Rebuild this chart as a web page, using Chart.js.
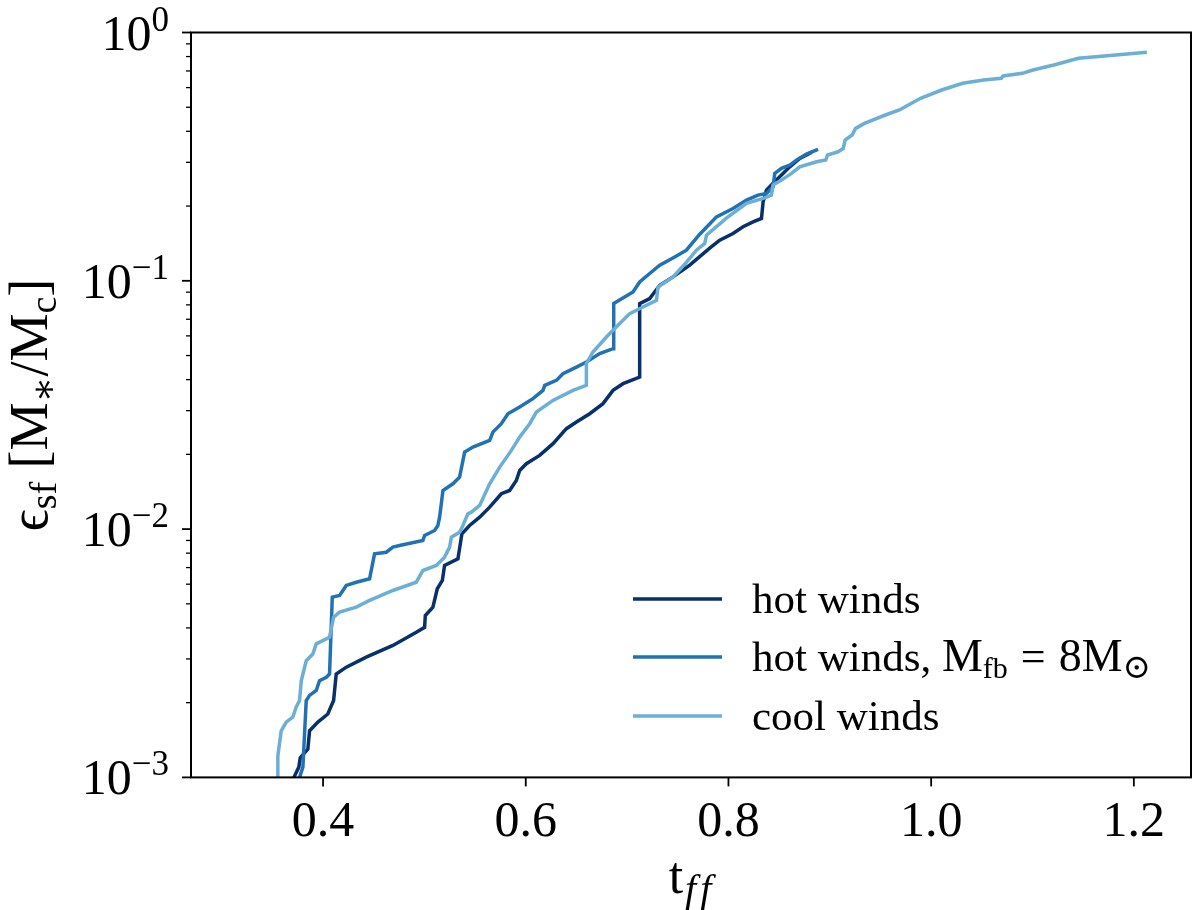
<!DOCTYPE html>
<html><head><meta charset="utf-8">
<script src="https://cdn.jsdelivr.net/npm/chart.js@4.4.0/dist/chart.umd.min.js"></script>
<style>html,body{margin:0;padding:0;background:#fff;}#wrap{width:1200px;height:910px;}</style>
</head><body><div id="wrap"><canvas id="c" width="1200" height="910"></canvas></div>
<script>
// ---- data ----
const hotWindsT = [0.3712,0.3761,0.3775,0.3850,0.3867,0.3949,0.4047,0.4104,0.4130,0.4229,0.4426,0.4689,0.4920,0.5002,0.5009,0.5084,0.5127,0.5177,0.5199,0.5331,0.5370,0.5446,0.5545,0.5644,0.5759,0.5841,0.5907,0.5940,0.6006,0.6137,0.6269,0.6401,0.6500,0.6631,0.6762,0.6861,0.6960,0.7124,0.7124,0.7223,0.7322,0.7453,0.7618,0.7815,0.7914,0.8045,0.8144,0.8243,0.8326,0.8342,0.8375,0.8424,0.8506,0.8605,0.8704,0.8822];
const hotWindsEps = [1.00e-3,1.10e-3,1.20e-3,1.30e-3,1.54e-3,1.67e-3,1.80e-3,2.04e-3,2.61e-3,2.78e-3,3.05e-3,3.40e-3,3.84e-3,4.02e-3,4.49e-3,4.85e-3,5.75e-3,6.21e-3,7.14e-3,7.59e-3,9.58e-3,1.034e-2,1.117e-2,1.226e-2,1.388e-2,1.431e-2,1.570e-2,1.723e-2,1.834e-2,1.981e-2,2.208e-2,2.537e-2,2.698e-2,2.916e-2,3.200e-2,3.620e-2,3.852e-2,4.096e-2,8.094e-2,8.481e-2,9.594e-2,0.1037,0.1156,0.1353,0.1458,0.1551,0.1650,0.1728,0.1783,0.2080,0.2318,0.2429,0.2623,0.2878,0.3112,0.3299];

const hotFbT = [0.3768,0.3801,0.3834,0.3867,0.3933,0.3965,0.4032,0.4064,0.4091,0.4163,0.4229,0.4328,0.4459,0.4508,0.4624,0.4689,0.4755,0.4985,0.5002,0.5101,0.5133,0.5150,0.5183,0.5281,0.5347,0.5397,0.5479,0.5644,0.5676,0.5759,0.5824,0.5940,0.6071,0.6170,0.6187,0.6302,0.6367,0.6500,0.6598,0.6730,0.6861,0.6868,0.7058,0.7124,0.7223,0.7322,0.7470,0.7585,0.7717,0.7882,0.8045,0.8178,0.8292,0.8375,0.8440,0.8457,0.8523,0.8605,0.8671,0.8770,0.8884];
const hotFbEps = [1.00e-3,1.10e-3,2.04e-3,2.14e-3,2.24e-3,2.45e-3,2.53e-3,2.61e-3,5.32e-3,5.40e-3,5.93e-3,6.11e-3,6.31e-3,7.95e-3,8.07e-3,8.46e-3,8.59e-3,9.00e-3,9.43e-3,9.87e-3,1.034e-2,1.117e-2,1.431e-2,1.522e-2,1.619e-2,2.042e-2,2.139e-2,2.276e-2,2.458e-2,2.658e-2,2.916e-2,3.100e-2,3.353e-2,3.620e-2,3.793e-2,3.972e-2,4.227e-2,4.493e-2,4.707e-2,5.090e-2,5.331e-2,8.094e-2,9.02e-2,9.89e-2,0.1070,0.1156,0.1248,0.1328,0.1541,0.1809,0.1956,0.2113,0.2213,0.2248,0.2390,0.2707,0.2836,0.2924,0.3063,0.3238,0.3383];

const coolT = [0.3554,0.3554,0.3587,0.3637,0.3702,0.3735,0.3768,0.3785,0.3834,0.3899,0.3933,0.4064,0.4104,0.4163,0.4328,0.4459,0.4689,0.4920,0.4985,0.5117,0.5199,0.5249,0.5266,0.5347,0.5380,0.5429,0.5463,0.5545,0.5644,0.5743,0.5858,0.5940,0.6039,0.6105,0.6268,0.6466,0.6598,0.6598,0.6663,0.6796,0.6927,0.7026,0.7157,0.7290,0.7305,0.7453,0.7575,0.7684,0.7766,0.7783,0.7980,0.8178,0.8342,0.8424,0.8440,0.8523,0.8622,0.8704,0.8869,0.8961,0.8977,0.9081,0.9133,0.9151,0.9220,0.9255,0.9342,0.9549,0.9687,0.9895,1.0104,1.0311,1.0519,1.0692,1.0710,1.0900,1.1004,1.1211,1.1454,1.1627,1.2129];
const coolEps = [1.00e-3,1.22e-3,1.54e-3,1.67e-3,1.75e-3,1.92e-3,2.04e-3,2.45e-3,2.95e-3,3.14e-3,3.45e-3,3.67e-3,4.42e-3,4.63e-3,4.85e-3,5.16e-3,5.66e-3,6.11e-3,6.81e-3,7.14e-3,7.71e-3,8.46e-3,9.28e-3,9.72e-3,1.034e-2,1.152e-2,1.170e-2,1.245e-2,1.522e-2,1.777e-2,2.075e-2,2.347e-2,2.658e-2,2.960e-2,3.299e-2,3.620e-2,3.793e-2,4.638e-2,5.167e-2,5.938e-2,6.724e-2,7.378e-2,7.843e-2,8.347e-2,9.44e-2,0.1037,0.1174,0.1328,0.1414,0.1527,0.1788,0.2049,0.2147,0.2213,0.2429,0.2544,0.2707,0.2878,0.3015,0.3063,0.3209,0.3308,0.3415,0.3688,0.3864,0.4111,0.4306,0.4653,0.4873,0.5432,0.5866,0.6244,0.6437,0.6539,0.6680,0.6850,0.7063,0.7399,0.7872,0.7991,0.8324];

const seriesNames = ['hot winds', 'hot winds, M_fb = 8M_sun', 'cool winds'];
const xTicks = [0.4, 0.6, 0.8, 1.0, 1.2];
const xTickLabels = ['0.4', '0.6', '0.8', '1.0', '1.2'];
const yTicks = [1e-3, 1e-2, 1e-1, 1];
const yTickExponents = ['\u22123', '\u22122', '\u22121', '0'];

// ---- drawing ----
const FAM = "'Liberation Serif','DejaVu Serif',serif";
function fnt(p){ return (p.it ? 'italic ' : '') + p.s + 'px ' + FAM; }
function drawParts(ctx, parts, x, y, align){
  let w = 0;
  parts.forEach(p => { ctx.font = fnt(p); p.w = ctx.measureText(p.t).width + (p.gap || 0) * 2; w += p.w; });
  let cx = align === 'right' ? x - w : (align === 'center' ? x - w / 2 : x);
  ctx.textAlign = 'left'; ctx.textBaseline = 'alphabetic';
  parts.forEach(p => { ctx.font = fnt(p); ctx.fillText(p.t, cx + (p.gap || 0), y + (p.dy || 0)); cx += p.w; });
}
const pts = (xs, ys) => xs.slice(0, Math.min(xs.length, ys.length)).map((t, i) => ({x: t, y: ys[i]}));

const legendParts = [
  [{t:'hot winds', s:43}],
  [{t:'hot winds, ', s:43}, {t:'M', s:46}, {t:'fb', s:30, dy:7}, {t:'=', s:44, gap:13}, {t:'8M', s:46}, {t:'\u2299', s:34, dy:7}],
  [{t:'cool winds', s:43}]
];

const decor = {
  id: 'decor',
  afterDraw(chart){
    const {ctx, chartArea: a, scales: {x, y}} = chart;
    ctx.save();
    ctx.fillStyle = '#000'; ctx.strokeStyle = '#000';
    // frame
    ctx.lineWidth = 2;
    ctx.strokeRect(a.left, a.top, a.right - a.left, a.bottom - a.top);
    // x ticks
    ctx.lineWidth = 1.8;
    xTicks.forEach((v, i) => {
      const px = x.getPixelForValue(v);
      ctx.beginPath(); ctx.moveTo(px, a.bottom); ctx.lineTo(px, a.bottom + 9); ctx.stroke();
      drawParts(ctx, [{t: xTickLabels[i], s: 50}], px, a.bottom + 59, 'center');
    });
    // y ticks (major + minor)
    yTicks.forEach((v, i) => {
      const py = y.getPixelForValue(v);
      ctx.lineWidth = 1.8;
      ctx.beginPath(); ctx.moveTo(a.left - 9, py); ctx.lineTo(a.left, py); ctx.stroke();
      drawParts(ctx, [{t:'10', s:50}, {t: yTickExponents[i], s:35, dy:-19}], a.left - 22, py + 17, 'right');
      if (i < yTicks.length - 1) {
        ctx.lineWidth = 1.3;
        for (let m = 2; m <= 9; m++) {
          const q = y.getPixelForValue(v * m);
          ctx.beginPath(); ctx.moveTo(a.left - 5, q); ctx.lineTo(a.left, q); ctx.stroke();
        }
      }
    });
    // x label
    drawParts(ctx, [{t:'t', s:52}, {t:'f', s:40, it:true, dy:9, gap:2}, {t:'f', s:40, it:true, dy:9, gap:2}], (a.left + a.right) / 2, 893, 'center');
    // y label
    ctx.save();
    ctx.translate(47, (a.top + a.bottom) / 2);
    ctx.rotate(-Math.PI / 2);
    drawParts(ctx, [
      {t:'\u03F5', s:54}, {t:'sf', s:38, dy:9}, {t:' [M', s:54}, {t:'\u2217', s:38, dy:9},
      {t:'/M', s:54}, {t:'c', s:38, dy:9}, {t:']', s:54}
    ], 0, 0, 'center');
    ctx.restore();
    // legend
    const rows = [599, 657, 716];
    chart.data.datasets.forEach((ds, i) => {
      ctx.strokeStyle = ds.borderColor; ctx.lineWidth = 3.5;
      ctx.beginPath(); ctx.moveTo(633, rows[i]); ctx.lineTo(722, rows[i]); ctx.stroke();
      ctx.fillStyle = '#000';
      drawParts(ctx, legendParts[i], 752, rows[i] + 14, 'left');
    });
    ctx.restore();
  }
};

new Chart(document.getElementById('c'), {
  type: 'line',
  data: {
    datasets: [
      {label: seriesNames[0], data: pts(hotWindsT, hotWindsEps), borderColor: '#08306b', borderWidth: 3.5, order: 3},
      {label: seriesNames[1], data: pts(hotFbT, hotFbEps), borderColor: '#2171b5', borderWidth: 3.5, order: 2},
      {label: seriesNames[2], data: pts(coolT, coolEps), borderColor: '#6baed6', borderWidth: 3.5, order: 1}
    ]
  },
  options: {
    responsive: false,
    devicePixelRatio: 1,
    animation: false,
    events: [],
    elements: {
      line: {tension: 0, fill: false, borderCapStyle: 'butt', borderJoinStyle: 'miter'},
      point: {radius: 0}
    },
    layout: {padding: {left: 183, right: 9, top: 32.5, bottom: 124.6}},
    plugins: {legend: {display: false}, tooltip: {enabled: false}},
    scales: {
      x: {type: 'linear', min: 0.2697, max: 1.2564,
          ticks: {display: false}, grid: {display: false}, border: {display: false}},
      y: {type: 'logarithmic', min: 1e-3, max: 1,
          ticks: {display: false}, grid: {display: false}, border: {display: false}}
    }
  },
  plugins: [decor]
});
</script></body></html>
